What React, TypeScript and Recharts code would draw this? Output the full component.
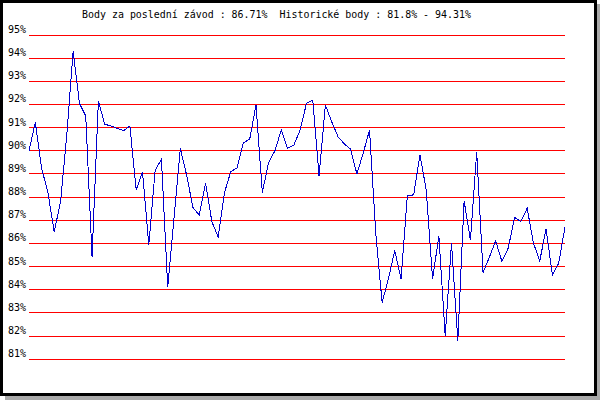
import React from 'react';
import { LineChart, Line, XAxis, YAxis, CartesianGrid } from 'recharts';

const scores: number[] = [
  90.0, 91.23, 89.25, 88.2, 86.5, 87.8, 90.7, 94.31, 92.05, 91.5,
  85.43, 92.15, 91.15, 91.07, 90.97, 90.87, 91.07, 88.31, 89.1, 85.94,
  89.15, 89.64, 84.12, 87.1, 90.1, 88.95, 87.55, 87.23, 88.6, 86.94,
  86.28, 88.2, 89.1, 89.27, 90.35, 90.5, 91.98, 88.2, 89.5, 90.0,
  90.9, 90.11, 90.25, 90.9, 92.05, 92.19, 88.91, 91.98, 91.26, 90.61,
  90.3, 90.07, 89.0, 89.9, 90.9, 86.4, 83.45, 84.48, 85.7, 84.46,
  88.06, 88.1, 89.83, 88.3, 84.46, 86.33, 82.01, 86.01, 81.8, 87.84,
  86.15, 89.96, 84.75, 85.4, 86.11, 85.22, 85.8, 87.13, 86.94, 87.52,
  86.01, 85.25, 86.63, 84.64, 85.15, 86.71,
];

const yTicks: number[] = [81, 82, 83, 84, 85, 86, 87, 88, 89, 90, 91, 92, 93, 94, 95];

const titleText = 'Body za poslední závod : 86.71%  Historické body : 81.8% - 94.31%';

const data = scores.map((v, i) => ({ race: i, score: v }));

const FONT = '"DejaVu Sans Mono", monospace';

function YTick(props: any) {
  const { y, payload } = props;
  return (
    <text x={26} y={y - 2} textAnchor="end" fontFamily={FONT} fontSize={10} fill="#000">
      {payload.value}%
    </text>
  );
}

export default function App() {
  return (
    <div style={{ position: 'absolute', left: 0, top: 0, width: 600, height: 400, background: '#fff' }}>
      <div style={{ position: 'absolute', left: 5, top: 4, width: 595, height: 396, background: '#aaaaaa' }} />
      <div
        style={{
          position: 'absolute',
          left: 0,
          top: 0,
          width: 597,
          height: 396,
          boxSizing: 'border-box',
          border: '3px solid #000',
          background: '#fff',
        }}
      />
      <svg width={600} height={400} style={{ position: 'absolute', left: 0, top: 0 }}>
        <text
          x={82}
          y={17.5}
          fontFamily={FONT}
          fontSize={10}
          fill="#000"
          textLength={389}
          lengthAdjust="spacingAndGlyphs"
          style={{ whiteSpace: 'pre' }}
        >
          {titleText}
        </text>
      </svg>
      <div style={{ position: 'absolute', left: 0, top: 0 }}>
        <LineChart
          width={600}
          height={400}
          data={data}
          margin={{ top: 35, right: 35, bottom: 40.7, left: 0 }}
        >
          <CartesianGrid
            vertical={false}
            stroke="#ff0000"
            strokeWidth={1}
            shapeRendering="crispEdges"
            horizontalValues={yTicks}
          />
          <XAxis dataKey="race" type="number" domain={[0, 85]} hide />
          <YAxis
            width={29}
            domain={[81, 95]}
            ticks={yTicks}
            interval={0}
            axisLine={false}
            tickLine={false}
            tick={<YTick />}
          />
          <Line
            type="linear"
            dataKey="score"
            stroke="#0000cc"
            strokeWidth={1}
            dot={false}
            activeDot={false}
            isAnimationActive={false}
            shapeRendering="crispEdges"
          />
        </LineChart>
      </div>
    </div>
  );
}
